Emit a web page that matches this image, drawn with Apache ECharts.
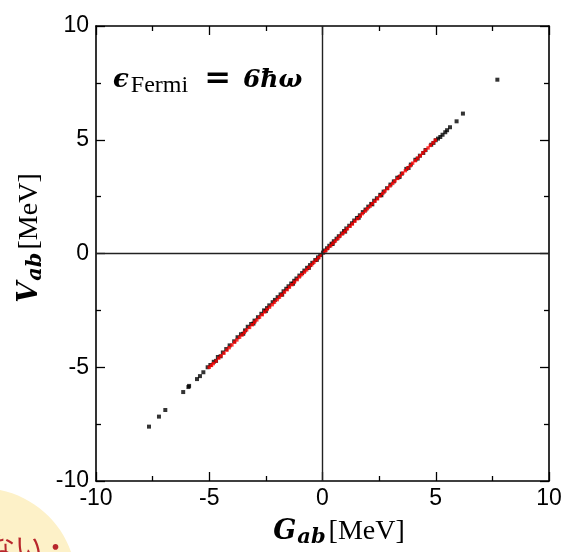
<!DOCTYPE html>
<html>
<head>
<meta charset="utf-8">
<script src="https://cdn.jsdelivr.net/npm/echarts@6/dist/echarts.min.js"></script>
<style>html,body{margin:0;padding:0;background:#fff}#c{width:572px;height:552px}</style>
</head>
<body>
<div id="c"></div>
<script>
// axis ticks
const xTicks = [-10, -5, 0, 5, 10];
const yTicks = [-10, -5, 0, 5, 10];

// black points: [G_ab, V_ab] (MeV)
const blackPoints = [
  [-7.66,-7.61],[-7.22,-7.17],[-6.94,-6.88],[-6.15,-6.09],[-5.92,-5.87],[-5.89,-5.82],
  [-5.54,-5.52],[-5.41,-5.39],[-5.26,-5.22],[-5.07,-5.0],[-4.95,-4.9],[-4.8,-4.76],
  [-4.62,-4.55],[-4.4,-4.35],[-4.25,-4.2],[-4.1,-4.04],[-3.9,-3.86],[-3.75,-3.68],
  [-3.6,-3.55],[-3.42,-3.38],[-3.3,-3.22],[-3.15,-3.1],[-3.0,-2.95],[-2.85,-2.8],
  [-2.7,-2.65],[-2.58,-2.5],[-2.45,-2.4],[-2.35,-2.28],[-2.2,-2.14],[-2.1,-2.04],
  [-1.98,-1.92],[-1.85,-1.8],[-1.72,-1.66],[-1.6,-1.55],[-1.5,-1.44],[-1.38,-1.32],
  [-1.25,-1.2],[-1.15,-1.1],[-1.02,-0.97],[-0.9,-0.86],[-0.8,-0.75],[-0.68,-0.63],
  [-0.55,-0.51],[-0.45,-0.41],[-0.32,-0.29],[-0.2,-0.17],[-0.1,-0.07],[0.02,0.04],
  [0.1,0.13],[0.2,0.23],[0.3,0.34],[0.4,0.43],[0.5,0.54],[0.62,0.65],[0.72,0.76],
  [0.85,0.88],[0.95,0.99],[1.05,1.1],[1.18,1.22],[1.3,1.33],[1.4,1.45],[1.52,1.56],
  [1.65,1.68],[1.78,1.82],[1.9,1.93],[2.02,2.06],[2.15,2.18],[2.28,2.32],[2.4,2.43],
  [2.55,2.58],[2.7,2.72],[2.85,2.87],[3.0,3.03],[3.15,3.17],[3.3,3.33],[3.5,3.51],
  [3.7,3.72],[3.9,3.91],[4.1,4.12],[4.3,4.3],[4.55,4.55],[4.8,4.78],[5.0,4.98],
  [5.1,5.05],[5.2,5.12],[5.3,5.22],[5.42,5.33],[5.5,5.42],[5.63,5.55],[5.92,5.81],
  [6.2,6.15],[7.72,7.64],
  [-4.7,-4.72],[-4.5,-4.52],[-3.5,-3.53],[-3.05,-3.08],[-2.5,-2.53],[-1.78,-1.81],
  [-1.3,-1.33],[-0.6,-0.63],[-0.25,-0.28],[0.45,0.42],[1.0,0.96],[1.6,1.57],
  [2.2,2.16],[2.6,2.56],[3.4,3.36],[3.8,3.76],[4.2,4.17],[4.45,4.42],[4.9,4.86]
];

// red points: [G_ab, V_ab] (MeV)
const redPoints = [
  [-5.0,-5.0],[-4.9,-4.92],[-4.82,-4.84],[-4.7,-4.73],[-4.58,-4.6],[-4.48,-4.5],
  [-4.35,-4.38],[-4.22,-4.25],[-4.12,-4.14],[-4.0,-4.02],[-3.88,-3.9],[-3.78,-3.8],
  [-3.66,-3.68],[-3.55,-3.58],[-3.45,-3.47],[-3.35,-3.36],[-3.22,-3.25],[-3.1,-3.13],
  [-3.0,-3.02],[-2.9,-2.92],[-2.78,-2.8],[-2.66,-2.69],[-2.55,-2.57],[-2.45,-2.46],
  [-2.34,-2.36],[-2.22,-2.25],[-2.12,-2.14],[-2.0,-2.03],[-1.9,-1.92],[-1.8,-1.82],
  [-1.68,-1.7],[-1.56,-1.59],[-1.46,-1.48],[-1.35,-1.37],[-1.24,-1.26],[-1.12,-1.15],
  [-1.02,-1.03],[-0.92,-0.93],[-0.8,-0.82],[-0.7,-0.72],[-0.6,-0.61],[-0.48,-0.5],
  [-0.38,-0.39],[-0.27,-0.28],[-0.16,-0.18],[-0.06,-0.07],[0.05,0.04],[0.15,0.13],
  [0.25,0.24],[0.36,0.34],[0.46,0.45],[0.57,0.55],[0.68,0.66],[0.78,0.77],[0.9,0.88],
  [1.0,0.98],[1.1,1.09],[1.22,1.2],[1.32,1.3],[1.43,1.42],[1.55,1.53],[1.66,1.64],
  [1.76,1.75],[1.88,1.86],[1.98,1.97],[2.1,2.08],[2.2,2.19],[2.32,2.3],[2.43,2.41],
  [2.54,2.53],[2.66,2.64],[2.76,2.75],[2.88,2.86],[2.98,2.97],[3.1,3.08],[3.2,3.19],
  [3.32,3.3],[3.43,3.41],[3.54,3.53],[3.66,3.64],[3.76,3.75],[3.88,3.86],[3.98,3.97],
  [4.1,4.08],[4.2,4.19],[4.32,4.3],[4.43,4.42],[4.54,4.53],[4.66,4.64],[4.76,4.75],
  [4.88,4.86],[4.98,4.98]
];

const chart = echarts.init(document.getElementById('c'), null, {renderer: 'canvas'});

const axisLineStyle = {color: '#000', width: 1.6};
function xAxisDef(pos, showLabel) {
  return {
    type: 'value', min: xTicks[0], max: xTicks[xTicks.length - 1], interval: xTicks[1] - xTicks[0],
    position: pos,
    axisLine: {show: true, onZero: false, lineStyle: axisLineStyle},
    axisTick: {show: true, inside: true, length: 9, lineStyle: {color: '#000', width: 1.3}},
    minorTick: {show: true, splitNumber: 2, length: 5, lineStyle: {color: '#000', width: 1.3}},
    splitLine: {show: false},
    axisLabel: {show: showLabel, fontSize: 23, color: '#000', fontFamily: 'Liberation Sans', margin: 6}
  };
}
function yAxisDef(pos, showLabel) {
  return {
    type: 'value', min: yTicks[0], max: yTicks[yTicks.length - 1], interval: yTicks[1] - yTicks[0],
    position: pos,
    axisLine: {show: true, onZero: false, lineStyle: axisLineStyle},
    axisTick: {show: true, inside: true, length: 9, lineStyle: {color: '#000', width: 1.3}},
    minorTick: {show: true, splitNumber: 2, length: 5, lineStyle: {color: '#000', width: 1.3}},
    splitLine: {show: false},
    axisLabel: {show: showLabel, fontSize: 23, color: '#000', fontFamily: 'Liberation Sans', margin: 7}
  };
}

const serifB = 'DejaVu Serif';
const serif = 'Liberation Serif';
const labelRich = {
  g: {fontFamily: serifB, fontStyle: 'italic', fontWeight: 'bold', fontSize: 27, fill: '#000'},
  s: {fontFamily: serifB, fontStyle: 'italic', fontWeight: 'bold', fontSize: 21, fill: '#000', padding: [11, 3, 0, 1]},
  m: {fontFamily: serif, fontSize: 28, fill: '#000'}
};

chart.setOption({
  animation: false,
  backgroundColor: '#fff',
  grid: {left: 96, right: 23, top: 26, bottom: 71, containLabel: false},
  xAxis: [xAxisDef('bottom', true), xAxisDef('top', false)],
  yAxis: [yAxisDef('left', true), yAxisDef('right', false)],
  series: [
    {
      type: 'scatter', xAxisIndex: 0, yAxisIndex: 0,
      data: blackPoints, symbol: 'rect', symbolSize: 4,
      itemStyle: {color: '#000'}, z: 3,
      markLine: {
        silent: true, symbol: 'none', animation: false,
        label: {show: false},
        lineStyle: {color: '#222', width: 1.4, type: 'solid'},
        data: [{xAxis: 0}, {yAxis: 0}]
      }
    },
    {
      type: 'scatter', xAxisIndex: 0, yAxisIndex: 0,
      data: redPoints, symbol: 'rect', symbolSize: 3.4,
      itemStyle: {color: '#ff0000'}, z: 4
    }
  ],
  graphic: [
    {
      type: 'ellipse', shape: {cx: -20, cy: 582, rx: 96, ry: 94},
      style: {fill: '#fdf1c8'}, z: -10
    },
    {
      type: 'text', left: -12, top: 533, z: -5,
      style: {text: 'ない・', font: '27px "Noto Sans CJK JP"', fill: '#b8262c'}
    },
    {
      type: 'text', x: 113, y: 80,
      style: {
        text: '{e|ϵ}{s|Fermi}{q|=}{b|6ħω}',
        verticalAlign: 'middle',
        rich: {
          e: {fontFamily: serifB, fontStyle: 'italic', fontWeight: 'bold', fontSize: 26, fill: '#000', padding: [0, 2, 0, 0]},
          s: {fontFamily: serif, fontSize: 24, fill: '#000', padding: [12, 0, 0, 0]},
          q: {fontFamily: serifB, fontWeight: 'bold', fontSize: 32, fill: '#000', padding: [0, 12, 0, 16]},
          b: {fontFamily: serifB, fontStyle: 'italic', fontWeight: 'bold', fontSize: 25, fill: '#000'}
        }
      }
    },
    {
      type: 'text', x: 339, y: 532,
      style: {
        text: '{g|G}{s|ab}{m|[MeV]}',
        align: 'center', verticalAlign: 'middle',
        rich: labelRich
      }
    },
    {
      type: 'text', x: 30, y: 238, rotation: Math.PI / 2,
      style: {
        text: '{g|V}{s|ab}{m|[MeV]}',
        align: 'center', verticalAlign: 'middle',
        rich: labelRich
      }
    }
  ]
});
</script>
</body>
</html>
